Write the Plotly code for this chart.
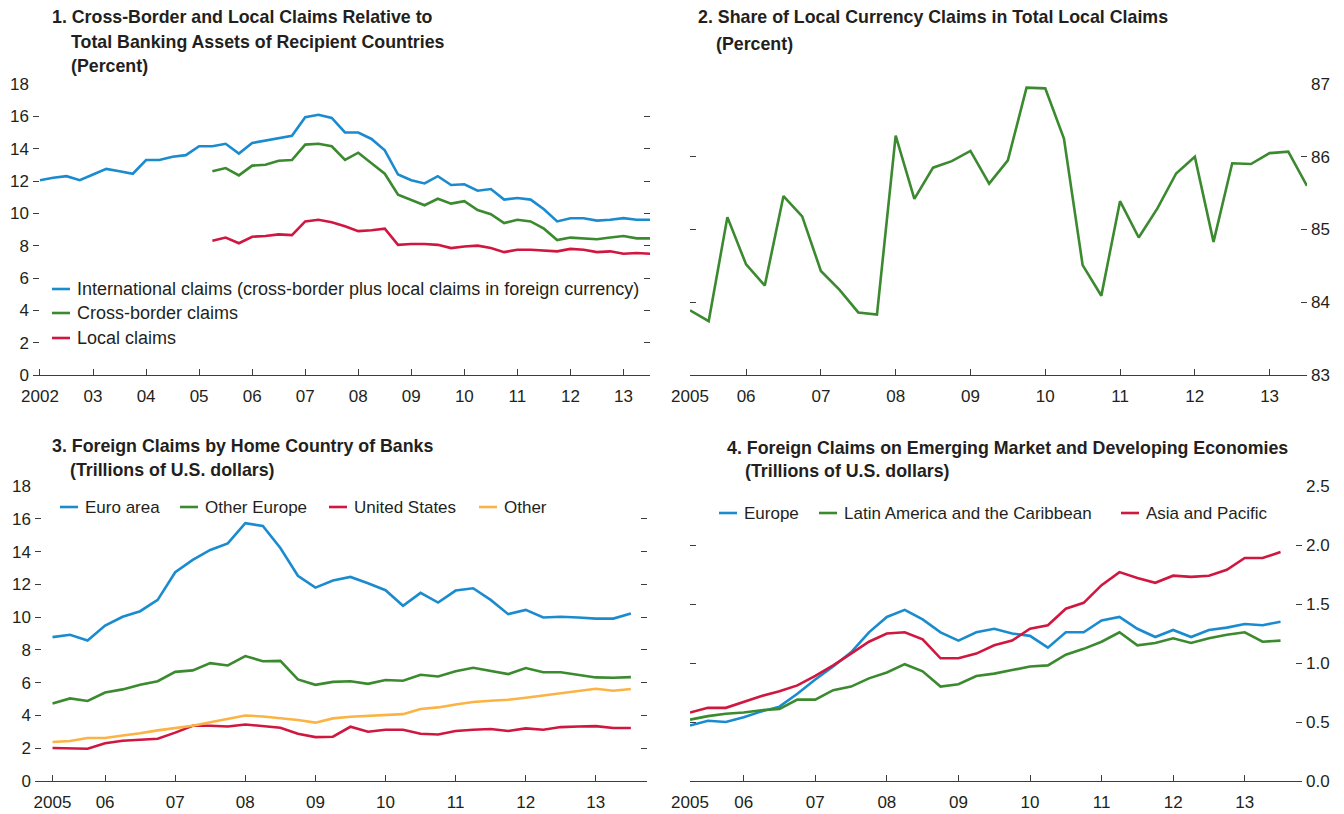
import plotly.graph_objects as go

W, H = 1344, 814

# ---------------- data ----------------
# Panel 1: quarterly, 2002Q1 - 2013Q3 (international) and 2005Q2 - 2013Q3 (others)
p1_international = [12.05, 12.2, 12.3, 12.05, 12.4, 12.75, 12.6, 12.45, 13.3, 13.3,
                    13.5, 13.6, 14.15, 14.15, 14.3, 13.7, 14.35, 14.5, 14.65, 14.8,
                    15.95, 16.1, 15.9, 15.0, 15.0, 14.6, 13.9, 12.4, 12.05, 11.85,
                    12.3, 11.75, 11.8, 11.4, 11.5, 10.85, 10.95, 10.85, 10.25, 9.5,
                    9.7, 9.7, 9.55, 9.6, 9.7, 9.6, 9.6]
p1_crossborder = [12.6, 12.8, 12.35, 12.95, 13.0, 13.25, 13.3, 14.25, 14.3, 14.15,
                  13.3, 13.75, 13.1, 12.45, 11.15, 10.8, 10.5, 10.9, 10.6, 10.75,
                  10.2, 9.95, 9.4, 9.6, 9.5, 9.05, 8.35, 8.5, 8.45, 8.4,
                  8.5, 8.6, 8.45, 8.45]
p1_local = [8.3, 8.5, 8.15, 8.55, 8.6, 8.7, 8.65, 9.5, 9.6, 9.45,
            9.2, 8.9, 8.95, 9.05, 8.05, 8.1, 8.1, 8.05, 7.85, 7.95,
            8.0, 7.85, 7.6, 7.75, 7.75, 7.7, 7.65, 7.8, 7.75, 7.6,
            7.65, 7.5, 7.55, 7.5]

# Panel 2: 2005Q2 - 2013Q3
p2_share = [83.89, 83.74, 85.17, 84.52, 84.23, 85.46, 85.18, 84.43, 84.17, 83.86,
            83.83, 86.29, 85.42, 85.85, 85.94, 86.08, 85.63, 85.95, 86.95, 86.94,
            86.25, 84.51, 84.09, 85.39, 84.89, 85.29, 85.77, 86.0, 84.83, 85.91,
            85.90, 86.05, 86.07, 85.6]

# Panel 3: 2005Q2 - 2013Q3
p3_euro = [8.78, 8.92, 8.57, 9.49, 10.02, 10.36, 11.05, 12.74, 13.49, 14.1,
           14.5, 15.73, 15.56, 14.22, 12.52, 11.8, 12.23, 12.45, 12.07, 11.64,
           10.69, 11.48, 10.89, 11.62, 11.76, 11.05, 10.18, 10.44, 9.98, 10.02,
           9.98, 9.91, 9.91, 10.22]
p3_other_europe = [4.73, 5.04, 4.88, 5.40, 5.59, 5.87, 6.09, 6.66, 6.75, 7.19,
                   7.05, 7.62, 7.31, 7.33, 6.2, 5.87, 6.05, 6.09, 5.93, 6.16,
                   6.12, 6.48, 6.38, 6.7, 6.91, 6.72, 6.52, 6.89, 6.64, 6.64,
                   6.5, 6.32, 6.3, 6.34]
p3_us = [2.01, 2.01, 1.97, 2.3, 2.46, 2.52, 2.58, 2.95, 3.37, 3.37,
         3.33, 3.45, 3.37, 3.25, 2.88, 2.68, 2.7, 3.31, 3.01, 3.13,
         3.13, 2.88, 2.84, 3.05, 3.13, 3.17, 3.05, 3.21, 3.13, 3.29,
         3.33, 3.35, 3.23, 3.23]
p3_other = [2.38, 2.44, 2.62, 2.62, 2.78, 2.91, 3.09, 3.21, 3.37, 3.58,
            3.78, 4.0, 3.94, 3.84, 3.72, 3.56, 3.82, 3.92, 3.98, 4.02,
            4.08, 4.39, 4.49, 4.67, 4.82, 4.9, 4.96, 5.08, 5.22, 5.38,
            5.53, 5.63, 5.51, 5.61]

# Panel 4: 2005Q2 - 2013Q3
p4_europe = [0.47, 0.51, 0.50, 0.54, 0.59, 0.63, 0.74, 0.86, 0.97, 1.09,
             1.26, 1.39, 1.45, 1.37, 1.26, 1.19, 1.26, 1.29, 1.25, 1.23,
             1.13, 1.26, 1.26, 1.36, 1.39, 1.29, 1.22, 1.28, 1.22, 1.28,
             1.30, 1.33, 1.32, 1.35]
p4_latam = [0.52, 0.55, 0.57, 0.58, 0.60, 0.61, 0.69, 0.69, 0.77, 0.80,
            0.87, 0.92, 0.99, 0.93, 0.80, 0.82, 0.89, 0.91, 0.94, 0.97,
            0.98, 1.07, 1.12, 1.18, 1.26, 1.15, 1.17, 1.21, 1.17, 1.21,
            1.24, 1.26, 1.18, 1.19]
p4_asia = [0.58, 0.62, 0.62, 0.67, 0.72, 0.76, 0.81, 0.89, 0.98, 1.08,
           1.18, 1.25, 1.26, 1.20, 1.04, 1.04, 1.08, 1.15, 1.19, 1.29,
           1.32, 1.46, 1.51, 1.66, 1.77, 1.72, 1.68, 1.74, 1.73, 1.74,
           1.79, 1.89, 1.89, 1.94]

# quarters as decimal years (Q1 = .00, Q2 = .25, ...)
years_2002 = list(range(2002, 2014))
quarters_from_2002 = [y + q / 4 for y in years_2002 for q in range(4)][:47]
quarters_from_2005q2 = quarters_from_2002[13:]

tick_text_2002 = ["2002", "03", "04", "05", "06", "07", "08", "09", "10", "11", "12", "13"]
tick_vals_2005 = [2005.25, 2006, 2007, 2008, 2009, 2010, 2011, 2012, 2013]
tick_text_2005 = ["2005", "06", "07", "08", "09", "10", "11", "12", "13"]

BLUE = "#1b8bd0"
GREEN = "#3b8a2f"
RED = "#d0173f"
ORANGE = "#fbb344"
TXT = "#231f20"
AX = "#3d3d3d"
FONT = "Liberation Sans, Arial, sans-serif"
FS = 17
FS_TITLE = 17.8
LW = 2.6

def px_x(p):
    return p / W

def px_y(p):
    return 1 - p / H

fig = go.Figure()

def line(x, y, color, xa, ya, name):
    fig.add_trace(go.Scatter(x=x, y=y, mode="lines", name=name, showlegend=False,
                             line=dict(color=color, width=LW), xaxis=xa, yaxis=ya,
                             hoverinfo="x+y"))

line(quarters_from_2002, p1_international, BLUE, "x", "y", "International claims")
line(quarters_from_2005q2, p1_crossborder, GREEN, "x", "y", "Cross-border claims")
line(quarters_from_2005q2, p1_local, RED, "x", "y", "Local claims")

line(quarters_from_2005q2, p2_share, GREEN, "x2", "y2", "Share")

line(quarters_from_2005q2, p3_euro, BLUE, "x3", "y3", "Euro area")
line(quarters_from_2005q2, p3_other_europe, GREEN, "x3", "y3", "Other Europe")
line(quarters_from_2005q2, p3_us, RED, "x3", "y3", "United States")
line(quarters_from_2005q2, p3_other, ORANGE, "x3", "y3", "Other")

line(quarters_from_2005q2, p4_europe, BLUE, "x4", "y4", "Europe")
line(quarters_from_2005q2, p4_latam, GREEN, "x4", "y4", "Latin America and the Caribbean")
line(quarters_from_2005q2, p4_asia, RED, "x4", "y4", "Asia and Pacific")

tickfont = dict(family=FONT, size=FS, color=TXT)

def xaxis(dom, rng, vals, text, anchor):
    return dict(domain=dom, range=rng, tickvals=vals, ticktext=text, anchor=anchor,
                showline=True, linecolor=AX, linewidth=1.3, ticks="inside", ticklen=6,
                tickcolor=AX, tickwidth=1.3, showgrid=False, zeroline=False,
                tickfont=tickfont, ticklabelstandoff=5, fixedrange=True,
                automargin=False)

def yaxis(dom, rng, dtick, side, anchor, fmt=None):
    d = dict(domain=dom, range=rng, dtick=dtick, side=side, anchor=anchor,
             showline=False, ticks="inside", ticklen=6, tickcolor=AX, tickwidth=1.3,
             mirror="ticks", showgrid=False, zeroline=False, tickfont=tickfont,
             ticklabelstandoff=3, fixedrange=True, automargin=False)
    if fmt:
        d["tickformat"] = fmt
    return d

top_dom = [px_y(375), px_y(84)]
bot_dom = [px_y(781), px_y(486)]

fig.update_layout(
    width=W, height=H,
    margin=dict(l=0, r=0, t=0, b=0, pad=0),
    paper_bgcolor="white", plot_bgcolor="white",
    showlegend=False,
    font=dict(family=FONT, size=FS, color=TXT),
    xaxis=xaxis([px_x(33), px_x(650)], [2002 - 7 / 53.1, 2013.5], years_2002, tick_text_2002, "y"),
    yaxis=yaxis(top_dom, [0, 18], 2, "left", "x"),
    xaxis2=xaxis([px_x(690), px_x(1307)], [2005.25, 2013.5], tick_vals_2005, tick_text_2005, "y2"),
    yaxis2=yaxis(top_dom, [83, 87], 1, "right", "x2"),
    xaxis3=xaxis([px_x(35), px_x(647)], [2005.0, 2013.73], tick_vals_2005, tick_text_2005, "y3"),
    yaxis3=yaxis(bot_dom, [0, 18], 2, "left", "x3"),
    xaxis4=xaxis([px_x(690), px_x(1302)], [2005.25, 2013.8], tick_vals_2005, tick_text_2005, "y4"),
    yaxis4=yaxis(bot_dom, [0, 2.5], 0.5, "right", "x4", ".1f"),
)

# ---------------- titles ----------------
titles = [
    ("<b>1. Cross-Border and Local Claims Relative to</b>", 50, 17),
    ("<b>Total Banking Assets of Recipient Countries</b>", 69, 42),
    ("<b>(Percent)</b>", 69, 66),
    ("<b>2. Share of Local Currency Claims in Total Local Claims</b>", 696, 17),
    ("<b>(Percent)</b>", 714, 44),
    ("<b>3. Foreign Claims by Home Country of Banks</b>", 50, 446),
    ("<b>(Trillions of U.S. dollars)</b>", 68, 470),
    ("<b>4. Foreign Claims on Emerging Market and Developing Economies</b>", 725, 448),
    ("<b>(Trillions of U.S. dollars)</b>", 743, 471),
]
for text, x, y in titles:
    fig.add_annotation(text=text, x=px_x(x), y=px_y(y), xref="paper", yref="paper",
                       xanchor="left", yanchor="middle", showarrow=False,
                       font=dict(family=FONT, size=FS_TITLE, color=TXT))

# ---------------- legends (keys drawn manually) ----------------
legend_items = [
    ("International claims (cross-border plus local claims in foreign currency)", BLUE, 52, 289, 18),
    ("Cross-border claims", GREEN, 52, 313, 18),
    ("Local claims", RED, 52, 338, 18),
    ("Euro area", BLUE, 60, 507, FS),
    ("Other Europe", GREEN, 180, 507, FS),
    ("United States", RED, 329, 507, FS),
    ("Other", ORANGE, 479, 507, FS),
    ("Europe", BLUE, 719, 513, FS),
    ("Latin America and the Caribbean", GREEN, 819, 513, FS),
    ("Asia and Pacific", RED, 1121, 513, FS),
]
for text, color, x, y, size in legend_items:
    fig.add_shape(type="line", xref="paper", yref="paper",
                  x0=px_x(x), x1=px_x(x + 18), y0=px_y(y), y1=px_y(y),
                  line=dict(color=color, width=LW))
    fig.add_annotation(text=text, x=px_x(x + 23), y=px_y(y), xref="paper", yref="paper",
                       xanchor="left", yanchor="middle", showarrow=False,
                       font=dict(family=FONT, size=size, color=TXT))

fig.write_html("out.html", config={"displayModeBar": False},
               post_script="document.body.style.margin='0';document.body.style.overflow='hidden';")
